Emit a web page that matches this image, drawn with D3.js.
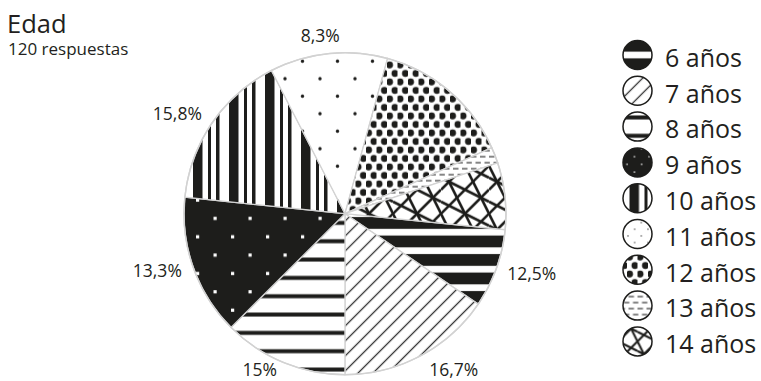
<!DOCTYPE html>
<html>
<head>
<meta charset="utf-8">
<script src="https://cdn.jsdelivr.net/npm/d3@7"></script>
<style>
  body { margin: 0; background: #fff; }
  text { font-family: "Open Sans", "Noto Sans", sans-serif; fill: #231f20; }
</style>
</head>
<body>
<div id="chart"></div>
<script>
// data
var categories = ["6 años", "7 años", "8 años", "9 años", "10 años", "11 años", "12 años", "13 años", "14 años"];
// share of the circle each slice takes, as drawn (%)
var shares = [7.9, 15.5, 12.5, 14.1, 15.8, 11.8, 14.0, 1.6, 6.7];
// percentages printed next to the slices
var sliceLabels = ["12,5%", "16,7%", "15%", "13,3%", "15,8%", "8,3%", "", "", ""];
var title = "Edad";
var subtitle = "120 respuestas";

var width = 761, height = 381;
var ink = "#1d1d1b";

//pie layout
var cx = 345, cy = 213.7, radius = 161;
var startDeg = 95.7;
var labelShift = [-2, -7, 5, 2.5, -3.5, -2, 0, 0, 0]; //degrees, label nudges
var labelPad = 10, capH = 12.6;
var maxBaseline = 376; //keep the bottom label inside the window

//legend layout
var legX = 637.5, legY = 55, legStep = 35.8, legR = 14.5;
var legendScale = [1, 1, 1, 0.42, 1, 0.38, 1, 1, 0.8];

var svg = d3.select("#chart").append("svg")
    .attr("width", width)
    .attr("height", height);

var defs = svg.append("defs");

//one fill pattern per category, k = index of category, s = scale
function buildPattern(id, k, s) {
  var p = defs.append("pattern")
      .attr("id", id)
      .attr("patternUnits", "userSpaceOnUse");
  var tf = "scale(" + s + ")";

  if (k === 0) { // heavy horizontal bands
    p.attr("width", 20).attr("height", 18.5).attr("y", -9.25);
    p.append("rect").attr("width", 20).attr("height", 18.5).attr("fill", ink);
    p.append("rect").attr("y", 5.9).attr("width", 20).attr("height", 6.7).attr("fill", "#fff");
  }
  else if (k === 1) { // thin diagonal hatch
    p.attr("width", 10.6).attr("height", 10);
    tf += " rotate(45)";
    p.append("rect").attr("width", 10.6).attr("height", 10).attr("fill", "#fff");
    p.append("line").attr("x1", 5.3).attr("x2", 5.3).attr("y1", 0).attr("y2", 10)
        .attr("stroke", "#333").attr("stroke-width", 1.3);
  }
  else if (k === 2) { // thin horizontal stripes
    p.attr("width", 20).attr("height", 18.33);
    p.append("rect").attr("width", 20).attr("height", 18.33).attr("fill", "#fff");
    p.append("rect").attr("y", 7.2).attr("width", 20).attr("height", 4).attr("fill", ink);
  }
  else if (k === 3) { // black with white squares
    p.attr("width", 35).attr("height", 36.7);
    p.append("rect").attr("width", 35).attr("height", 36.7).attr("fill", ink);
    [[8.5, 3.1], [26, 21.5]].forEach(function(q) {
      p.append("rect").attr("x", q[0]).attr("y", q[1]).attr("width", 3.2).attr("height", 3.2).attr("fill", "#fff");
    });
  }
  else if (k === 4) { // vertical bars
    p.attr("width", 36).attr("height", 20).attr("x", -8);
    p.append("rect").attr("width", 36).attr("height", 20).attr("fill", "#fff");
    [[0, 9.5], [15, 3], [23, 3.5]].forEach(function(b) {
      p.append("rect").attr("x", b[0]).attr("width", b[1]).attr("height", 20).attr("fill", ink);
    });
  }
  else if (k === 5) { // sparse small dots
    p.attr("width", 35).attr("height", 35);
    p.append("rect").attr("width", 35).attr("height", 35).attr("fill", "#fff");
    [[10, 5], [27.5, 22.5]].forEach(function(c) {
      p.append("circle").attr("cx", c[0]).attr("cy", c[1]).attr("r", 1.7).attr("fill", ink);
    });
  }
  else if (k === 6) { // big dots
    p.attr("width", 10.5).attr("height", 17);
    p.append("rect").attr("width", 10.5).attr("height", 17).attr("fill", "#fff");
    [[2.6, 4.25], [7.9, 12.75]].forEach(function(c) {
      p.append("circle").attr("cx", c[0]).attr("cy", c[1]).attr("r", 3.4).attr("fill", ink);
    });
  }
  else if (k === 7) { // dashed lines
    p.attr("width", 9).attr("height", 12);
    p.append("rect").attr("width", 9).attr("height", 12).attr("fill", "#fff");
    [[0, 5.5, 3], [4.5, 9, 9], [0, 1, 9]].forEach(function(l) {
      p.append("line").attr("x1", l[0]).attr("x2", l[1]).attr("y1", l[2]).attr("y2", l[2])
          .attr("stroke", "#333").attr("stroke-width", 1.2);
    });
  }
  else { // crossing thick lines
    p.attr("width", 48).attr("height", 48);
    p.append("rect").attr("width", 48).attr("height", 48).attr("fill", "#fff");
    [[0, 48, 48, 0], [0, 24, 24, 0], [24, 48, 48, 24],
     [0, 0, 24, 48], [24, 0, 48, 48],
     [0, 12, 48, 36], [0, 36, 24, 48], [24, 0, 48, 12]].forEach(function(l) {
      p.append("line").attr("x1", l[0]).attr("y1", l[1]).attr("x2", l[2]).attr("y2", l[3])
          .attr("stroke", ink).attr("stroke-width", 2.6);
    });
  }
  p.attr("patternTransform", tf);
}

categories.forEach(function(c, i) {
  buildPattern("pie-p" + i, i, 1);
  buildPattern("leg-p" + i, i, legendScale[i]);
});

//title
svg.append("text")
    .attr("x", 7).attr("y", 33.3)
    .style("font-size", "25.5px")
    .text(title);

svg.append("text")
    .attr("x", 8).attr("y", 55)
    .style("font-size", "17px")
    .text(subtitle);

//pie
var a0 = startDeg * Math.PI / 180;
var pie = d3.pie()
    .sort(null)
    .value(function(d) { return d; })
    .startAngle(a0)
    .endAngle(a0 + 2 * Math.PI);

var arc = d3.arc().innerRadius(0).outerRadius(radius);

var g = svg.append("g")
    .attr("transform", "translate(" + cx + "," + cy + ")");

var arcs = pie(shares);

g.selectAll("path.slice")
    .data(arcs)
    .enter().append("path")
    .attr("class", "slice")
    .attr("d", arc)
    .attr("fill", function(d, i) { return "url(#pie-p" + i + ")"; })
    .attr("stroke", "#d2d2d2")
    .attr("stroke-width", 1.3);

g.append("circle")
    .attr("r", radius)
    .attr("fill", "none")
    .attr("stroke", "#d2d2d2")
    .attr("stroke-width", 1.5);

//percentage labels outside the pie
g.selectAll("text.lbl")
    .data(arcs)
    .enter().append("text")
    .attr("class", "lbl")
    .style("font-size", "17.5px")
    .attr("text-anchor", "middle")
    .text(function(d, i) { return sliceLabels[i]; })
    .each(function(d, i) {
      var w = this.getComputedTextLength();
      var a = (d.startAngle + d.endAngle) / 2 + labelShift[i] * Math.PI / 180;
      var ext = Math.abs(Math.sin(a)) * w / 2 + Math.abs(Math.cos(a)) * capH / 2;
      var r = radius + labelPad + ext;
      var y = Math.min(-Math.cos(a) * r + capH / 2, maxBaseline - cy);
      d3.select(this)
          .attr("x", Math.sin(a) * r)
          .attr("y", y);
    });

//legend
var leg = svg.append("g").selectAll("g")
    .data(categories)
    .enter().append("g")
    .attr("transform", function(d, i) { return "translate(" + legX + "," + (legY + i * legStep) + ")"; });

leg.append("circle")
    .attr("r", legR)
    .attr("fill", function(d, i) { return "url(#leg-p" + i + ")"; })
    .attr("stroke", ink)
    .attr("stroke-width", 1.5);

leg.append("text")
    .attr("x", 27.5)
    .attr("y", 11.7)
    .style("font-size", "25px")
    .text(function(d) { return d; });
</script>
</body>
</html>
